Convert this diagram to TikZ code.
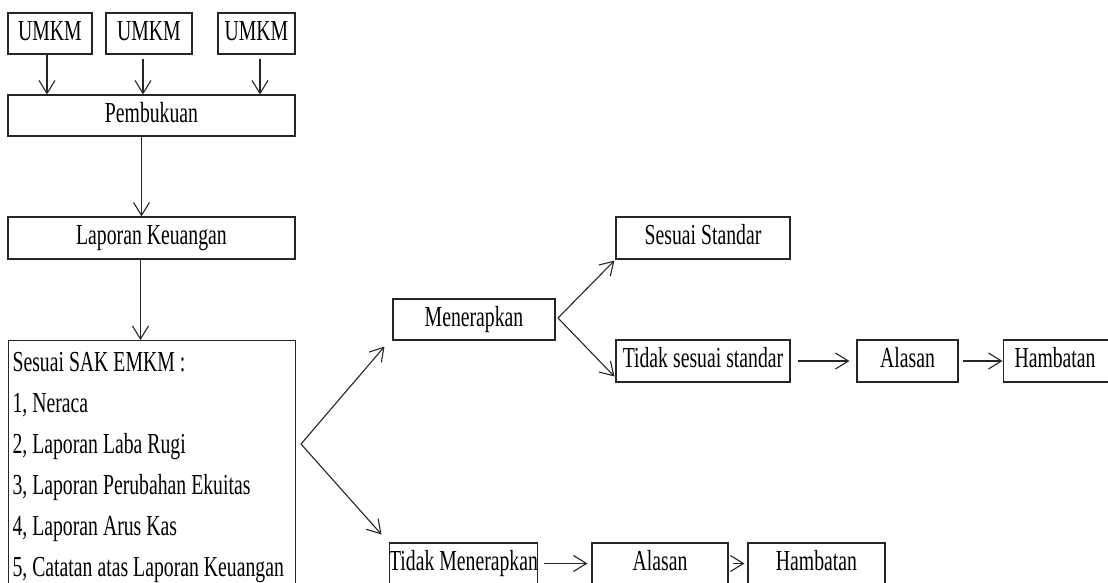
\documentclass[tikz,border=0pt]{standalone}
\usepackage{fontspec}
\setmainfont{Liberation Serif}[FakeStretch=0.68]
\usetikzlibrary{arrows.meta}
\newcommand\myboxfont{\fontsize{29}{29}\selectfont\spaceskip 5pt\relax}
\newcommand\mylistfont{\fontsize{29}{41}\selectfont}
\begin{document}
\begin{tikzpicture}[x=1pt,y=-1pt,
  box/.style={draw=black!85, line width=1.1pt, inner sep=0pt, minimum height=41pt,
    font=\myboxfont, text height=19pt, text depth=6pt},
  arr/.style={draw=black!85, line width=1.1pt, -{Straight Barb[length=13pt,width=16pt,line width=1.1pt]}}]
\useasboundingbox (0,0) rectangle (1108,582);
\fill[white] (0,0) rectangle (1108,582);
% top row
\node[box, minimum width=84pt] (u1) at (50,33.5) {UMKM};
\node[box, minimum width=86pt] (u2) at (149,33.5) {UMKM};
\node[box, minimum width=77pt] (u3) at (256.5,33.5) {UMKM};
\node[box, minimum width=287pt] (pemb) at (151.5,115.5) {Pembukuan};
\node[box, minimum width=287pt, minimum height=42pt] (lk) at (151.5,238) {Laporan Keuangan};
\node[draw=black!85, line width=1.1pt, anchor=north west, inner xsep=4pt, inner ysep=12pt,
  text width=279pt, align=left, font=\mylistfont] (sak) at (8,340)
  {\spaceskip 5pt\relax Sesuai SAK EMKM :\\\spaceskip 5pt\relax 1, Neraca\\\spaceskip 5pt\relax 2, Laporan Laba Rugi\\\spaceskip 5pt\relax 3, Laporan Perubahan Ekuitas\\\spaceskip 5pt\relax 4, Laporan Arus Kas\\\spaceskip 5pt\relax\mbox{5, Catatan atas Laporan Keuangan}};
% middle
\node[box, minimum width=162pt] (men) at (474,319.5) {Menerapkan};
\node[box, minimum width=147pt] (tmen) at (463.5,563.5) {Tidak Menerapkan};
\node[box, minimum width=136pt] (al2) at (660,563.5) {Alasan};
\node[box, minimum width=137pt] (hb2) at (816.5,563.5) {Hambatan};
% right
\node[box, minimum width=174pt, minimum height=42pt] (ss) at (703,238) {Sesuai Standar};
\node[box, minimum width=174pt, minimum height=42pt] (tss) at (703,361) {Tidak sesuai standar};
\node[box, minimum width=101pt, minimum height=42pt] (al1) at (907.5,361) {Alasan};
\node[box, minimum width=110pt, minimum height=42pt, anchor=west] (hb1) at (1002.5,361) {\hspace*{-6pt}Hambatan};
\coordinate (fork) at (301,444);
\coordinate (mfork) at (558,318);
% connectors
\draw[arr] ([xshift=-3pt]u1.south) -- ([xshift=-3pt]u1.south |- pemb.north);
\draw[arr] ([xshift=-6pt,yshift=-4pt]u2.south) -- ([xshift=-6pt]u2.south |- pemb.north);
\draw[arr] ([xshift=3.5pt,yshift=-4pt]u3.south) -- ([xshift=3.5pt]u3.south |- pemb.north);
\draw[arr] ([xshift=-10pt]pemb.south) -- ([xshift=-10pt]pemb.south |- lk.north);
\draw[arr] ([xshift=-11pt]lk.south) -- ([xshift=-11pt]lk.south |- sak.north);
\draw[arr] (fork) -- ([shift={(-8pt,-6pt)}]men.south west);
\draw[arr] (fork) -- ([shift={(-7pt,8pt)}]tmen.north west);
\draw[arr] (mfork) -- ([xshift=-1pt,yshift=-1pt]ss.south west);
\draw[arr] (mfork) -- ([xshift=-1pt,yshift=6pt]tss.south west);
\draw[arr] ([xshift=7pt]tss.east) -- ([xshift=-7pt]al1.west);
\draw[arr] ([xshift=4pt]al1.east) -- (hb1.west);
\draw[arr] ([xshift=6pt]tmen.east) -- ([xshift=-4pt]al2.west);
\draw[arr] ([xshift=4pt]al2.east) -- ([xshift=-3pt]hb2.west);
\end{tikzpicture}
\end{document}
